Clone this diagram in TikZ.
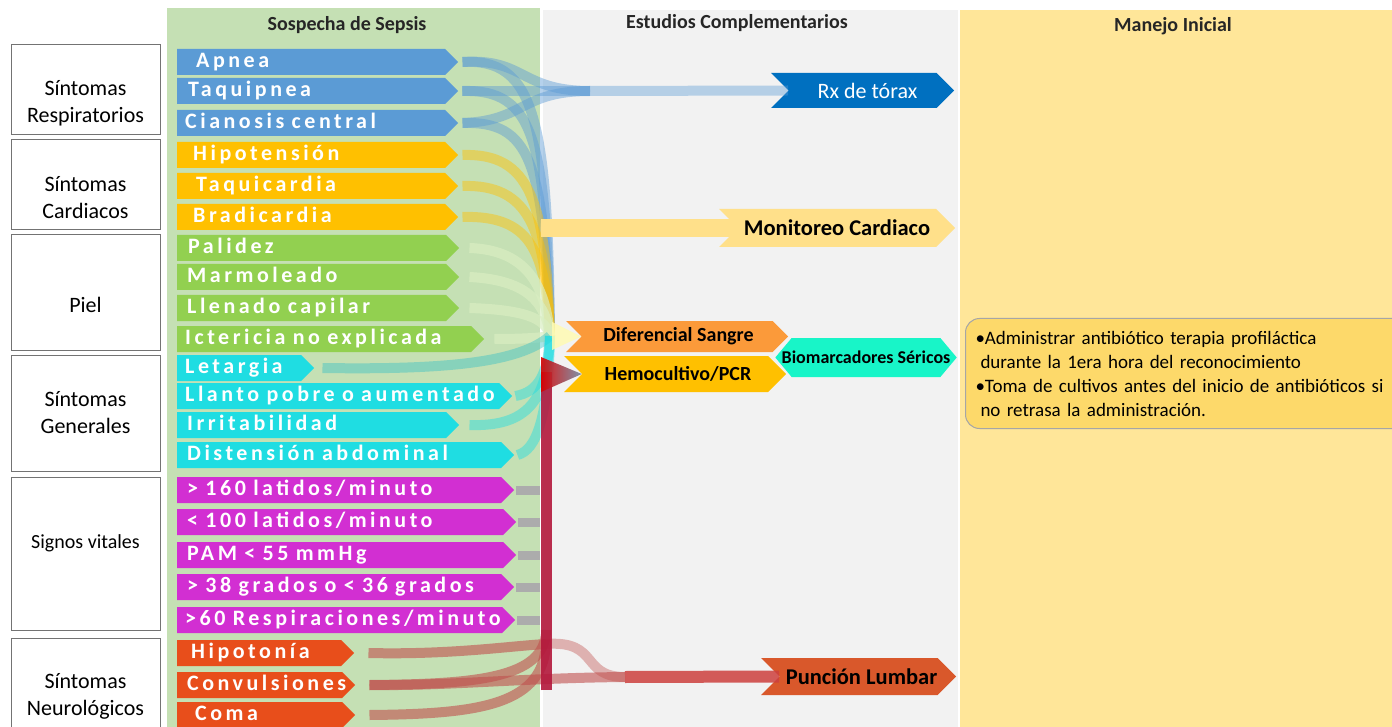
\documentclass[tikz,border=0pt]{standalone}
\usepackage{fontspec}
\setmainfont{Carlito}
\newfontfamily\espaciado[LetterSpace=16, WordSpace=1.5]{Carlito Bold}
\usetikzlibrary{shapes.symbols}

\definecolor{colverde}{HTML}{C5E0B4}
\definecolor{colgris}{HTML}{F2F2F2}
\definecolor{colamarillo}{HTML}{FFE699}
\definecolor{azul}{HTML}{5B9BD5}
\definecolor{ambar}{HTML}{FFC000}
\definecolor{verde}{HTML}{92D050}
\definecolor{cian}{HTML}{1FDDE2}
\definecolor{magenta2}{HTML}{D22FD2}
\definecolor{rojizo}{HTML}{E84E1B}
\definecolor{azulrx}{HTML}{0070C0}
\definecolor{crema}{HTML}{FFE08A}
\definecolor{naranja}{HTML}{FB9A3A}
\definecolor{turquesa}{HTML}{18F5C8}
\definecolor{ladrillo}{HTML}{D9582B}
\definecolor{cajaam}{HTML}{FDD96A}
\definecolor{carmin}{HTML}{B3183C}
\definecolor{rojoflujo}{HTML}{C0504D}

\tikzset{
  categoria/.style={draw=gray!90!black, line width=1.3pt, fill=white, minimum width=149pt, anchor=north west, inner sep=0pt},
  cattexto/.style={font=\fontsize{22}{27}\selectfont, align=center},
  sintoma/.style={signal, signal to=east, signal pointer angle=90, anchor=west, minimum height=26pt,
    inner xsep=8pt, inner ysep=0pt, text height=15pt, text depth=4pt, align=left, text=white,
    font=\espaciado\fontsize{22}{26}\selectfont},
  estudio/.style={signal, signal from=west, signal to=east, signal pointer angle=90, inner sep=0pt},
  titulo/.style={font=\bfseries\fontsize{20}{24}\selectfont, text=black!85},
  flujo/.style={line width=10pt, draw opacity=0.45},
}

\begin{document}
\begin{tikzpicture}[x=1pt,y=-1pt]
  \useasboundingbox (0,0) rectangle (1392,727);
  \fill[white] (0,0) rectangle (1392,727);
  % columnas
  \fill[colverde] (167,8) rectangle (540,727);
  \fill[colgris] (543,10) rectangle (958,727);
  \fill[colamarillo] (960,10) rectangle (1392,727);
  \node[titulo] (tsospecha) at (347,25) {Sospecha de Sepsis};
  \node[titulo] (testudios) at (737,23) {Estudios Complementarios};
  \node[titulo] (tmanejo) at (1173,26) {Manejo Inicial};

  % categorias
  \node[categoria, minimum height=90pt] (resp) at (11,44) {};
  \node[cattexto] at (85.5,103) {Síntomas\\Respiratorios};
  \node[categoria, minimum height=90pt] (card) at (11,139) {};
  \node[cattexto] at (85.5,198) {Síntomas\\Cardiacos};
  \node[categoria, minimum height=116pt] (piel) at (11,234) {};
  \node[cattexto] at (85.5,305) {Piel};
  \node[categoria, minimum height=116pt] (gen) at (11,355) {};
  \node[cattexto] at (85.5,413) {Síntomas\\Generales};
  \node[categoria, minimum height=153pt] (vit) at (11,477) {};
  \node[cattexto, font=\fontsize{20}{24}\selectfont] at (85.5,543) {Signos vitales};
  \node[categoria, minimum height=116pt] (neuro) at (11,638) {};
  \node[cattexto] at (85.5,696) {Síntomas\\Neurológicos};

  % sintomas
  \node[sintoma, fill=azul, text width=252pt] (apnea) at (177,62) {\hspace{11pt}Apnea};
  \node[sintoma, fill=azul, text width=252pt] (taquipnea) at (177,91) {\hspace{3pt}Taquipnea};
  \node[sintoma, fill=azul, text width=252pt] (cianosis) at (177,123) {\mbox{Cianosis central}};
  \node[sintoma, fill=ambar, text width=252pt] (hipotension) at (177,155) {\hspace{8pt}Hipotensión};
  \node[sintoma, fill=ambar, text width=252pt] (taquicardia) at (177,186) {\hspace{11pt}Taquicardia};
  \node[sintoma, fill=ambar, text width=252pt] (bradicardia) at (177,217) {\hspace{8pt}Bradicardia};
  \node[sintoma, fill=verde, text width=253pt] (palidez) at (177,248) {\hspace{3pt}Palidez};
  \node[sintoma, fill=verde, text width=253pt] (marmoleado) at (177,277) {\hspace{2pt}Marmoleado};
  \node[sintoma, fill=verde, text width=253pt] (llenado) at (177,308) {\mbox{\hspace{2pt}Llenado capilar}};
  \node[sintoma, fill=verde, text width=278pt] (ictericia) at (177,339) {\mbox{Ictericia no explicada}};
  \node[sintoma, fill=cian, text width=108pt] (letargia) at (177,368) {\mbox{Letargia}};
  \node[sintoma, fill=cian, text width=306pt] (llanto) at (177,396) {\mbox{Llanto pobre o aumentado}};
  \node[sintoma, fill=cian, text width=253pt] (irritabilidad) at (177,425) {\hspace{2pt}Irritabilidad};
  \node[sintoma, fill=cian, text width=308pt] (distension) at (177,455) {\mbox{\hspace{2pt}Distensión abdominal}};
  \node[sintoma, fill=magenta2, text width=308pt] (lat160) at (177,490) {\mbox{\hspace{2pt}> 160 latidos/minuto}};
  \node[sintoma, fill=magenta2, text width=310pt] (lat100) at (177,522) {\mbox{\hspace{2pt}< 100 latidos/minuto}};
  \node[sintoma, fill=magenta2, text width=310pt] (pam) at (177,555) {\mbox{\hspace{2pt}PAM < 55 mmHg}};
  \node[sintoma, fill=magenta2, text width=308pt] (temp) at (177,587) {\mbox{\hspace{2pt}> 38 grados o < 36 grados}};
  \node[sintoma, fill=magenta2, text width=309pt] (resp60) at (177,620) {\mbox{>60 Respiraciones/minuto}};
  \node[sintoma, fill=rojizo, text width=148pt] (hipotonia) at (177,653) {\mbox{\hspace{6pt}Hipotonía}};
  \node[sintoma, fill=rojizo, text width=149pt] (convulsiones) at (177,685) {\mbox{\hspace{2pt}Convulsiones}};
  \node[sintoma, fill=rojizo, text width=149pt] (coma) at (177,715) {\hspace{10pt}Coma};

  % estudios
  \node[estudio, fill=azulrx, minimum width=183pt, minimum height=35pt, text=white,
    font=\fontsize{22}{26}\selectfont] (rx) at (862.5,90.5) {\hspace{10pt}Rx de tórax};
  \node[estudio, fill=crema, minimum width=236pt, minimum height=38pt,
    font=\bfseries\fontsize{22.5}{26}\selectfont] (monitoreo) at (837,228) {Monitoreo Cardiaco};
  \node[estudio, fill=naranja, minimum width=222pt, minimum height=31pt,
    font=\bfseries\fontsize{20}{24}\selectfont] (diferencial) at (677,336.5) {\hspace{3pt}Diferencial Sangre};
  \node[estudio, fill=ambar, minimum width=222pt, minimum height=36pt,
    font=\bfseries\fontsize{20}{24}\selectfont] (hemocultivo) at (675,374) {\hspace{6pt}Hemocultivo/PCR};
  \node[signal, signal to=east and west, signal pointer angle=100, inner ysep=0pt, inner xsep=-10pt, fill=turquesa,
    minimum width=180pt, minimum height=39pt, font=\bfseries\fontsize{18}{21}\selectfont]
    (biomarcadores) at (866,357.5) {Biomarcadores Séricos};
  \node[estudio, fill=ladrillo, minimum width=195pt, minimum height=37pt,
    font=\bfseries\fontsize{22.5}{26}\selectfont] (puncion) at (858.5,676.5) {\hspace{6pt}Punción Lumbar};

  % manejo
  \node[draw=gray!70, line width=1pt, fill=cajaam, rounded corners=14pt, anchor=north west,
    minimum width=450pt, minimum height=110pt, text width=430pt, inner xsep=10pt, align=left,
    font=\fontsize{19}{24}\selectfont] (manejo) at (965,318)
    {\textbullet Administrar antibiótico terapia profiláctica\\
     \hspace*{5pt}durante la 1era hora del reconocimiento\\
     \textbullet Toma de cultivos antes del inicio de antibióticos si\\
     \hspace*{5pt}no retrasa la administración.};

  % flujos respiratorios
  \coordinate (union) at (550,336);
  \coordinate (rxcruce) at (590,91);
  \draw[flujo, azul] ([xshift=4pt]apnea.east) .. controls (535,58) and (548,120) .. (union);
  \draw[flujo, azul] ([xshift=4pt]taquipnea.east) .. controls (535,89) and (546,140) .. (union);
  \draw[flujo, azul] ([xshift=4pt]cianosis.east) .. controls (530,121) and (544,160) .. (union);
  \draw[flujo, azul] ([xshift=4pt]apnea.east) .. controls (525,58) and (520,91) .. (rxcruce);
  \draw[flujo, azul] ([xshift=4pt]taquipnea.east) -- (rxcruce);
  \draw[flujo, azul] ([xshift=4pt]cianosis.east) .. controls (525,121) and (520,91) .. (rxcruce);
  \draw[flujo, azul, draw opacity=0.4] (rxcruce) -- (rx.west);
  % flujos cardiacos
  \draw[flujo, ambar] ([xshift=4pt]hipotension.east) .. controls (530,153) and (546,200) .. (union);
  \draw[flujo, ambar] ([xshift=4pt]taquicardia.east) .. controls (530,184) and (546,230) .. (union);
  \draw[flujo, ambar] ([xshift=4pt]bradicardia.east) .. controls (530,215) and (546,250) .. (union);
  \draw[line width=18pt, crema] (541,228) -- (monitoreo.west);
  % flujos piel
  \draw[flujo, verde!35!white, draw opacity=0.7] ([xshift=10pt]palidez.east) .. controls (530,250) and (546,290) .. (union);
  \draw[flujo, verde!35!white, draw opacity=0.7] ([xshift=10pt]marmoleado.east) .. controls (530,280) and (546,305) .. (union);
  \draw[flujo, verde!35!white, draw opacity=0.7] ([xshift=10pt]llenado.east) .. controls (530,310) and (546,320) .. (union);
  \draw[flujo, verde!35!white, draw opacity=0.7] ([xshift=10pt]ictericia.east) .. controls (520,339) and (540,338) .. (union);
  % flujos generales
  \draw[flujo, cian!70!gray] ([xshift=8pt]letargia.east) .. controls (450,370) and (520,362) .. (union);
  \draw[flujo, cian] ([xshift=3pt]llanto.east) .. controls (538,392) and (548,375) .. (union);
  \draw[flujo, cian] ([xshift=10pt]irritabilidad.east) .. controls (528,427) and (548,400) .. (union);
  \draw[flujo, cian] ([xshift=3pt]distension.east) .. controls (536,450) and (548,420) .. (union);
  % signos vitales
  \draw[line width=9pt, gray!65] ([xshift=2pt]lat160.east) -- ++(24,0);
  \draw[line width=9pt, gray!65] ([xshift=2pt]lat100.east) -- ++(22,0);
  \draw[line width=9pt, gray!65] ([xshift=2pt]pam.east) -- ++(22,0);
  \draw[line width=9pt, gray!65] ([xshift=2pt]temp.east) -- ++(24,0);
  \draw[line width=9pt, gray!65] ([xshift=2pt]resp60.east) -- ++(23,0);
  % flujos neurologicos
  \draw[flujo, rojoflujo, draw opacity=0.6] ([xshift=14pt]hipotonia.east) .. controls (450,655) and (510,646) .. (546,644);
  \draw[flujo, rojoflujo, draw opacity=0.4] (546,644) .. controls (600,640) and (580,677) .. (625,677);
  \draw[flujo, rojoflujo, draw opacity=0.6] ([xshift=14pt]convulsiones.east) .. controls (450,686) and (520,678) .. (625,677);
  \draw[flujo, rojoflujo, draw opacity=0.6] ([xshift=14pt]convulsiones.east) .. controls (470,684) and (546,680) .. (546,630);
  \draw[flujo, rojoflujo, draw opacity=0.6] ([xshift=14pt]coma.east) .. controls (480,714) and (546,705) .. (546,640);
  \draw[line width=12pt, rojoflujo!80!red, draw opacity=0.85] (625,677) -- (puncion.west);
  \draw[line width=11pt, carmin, draw opacity=0.9] (546,690) -- (546,372);
  % puntas hacia los estudios de sangre
  \fill[yellow!30!white, opacity=0.85] (552,322) -- (diferencial.west) -- (552,350) -- cycle;
  \shade[left color=red!85!black, right color=azul!40!gray, opacity=0.9] (541,357) -- (hemocultivo.west) -- (541,392) -- cycle;
\end{tikzpicture}
\end{document}
